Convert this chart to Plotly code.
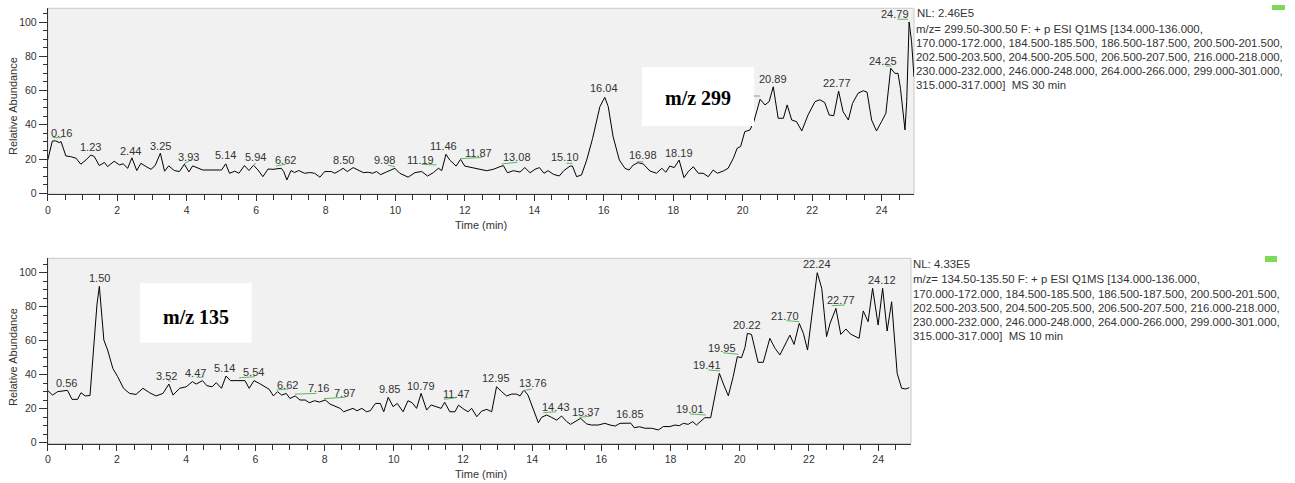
import plotly.graph_objects as go

# ---------------- data ----------------
top_t = [0.00, 0.13, 0.23, 0.33, 0.38, 0.52, 0.66, 0.81, 0.95, 1.10, 1.24, 1.34, 1.48, 1.63, 1.72, 1.91,
         2.06, 2.17, 2.30, 2.42, 2.56, 2.68, 2.83, 2.97, 3.09, 3.24, 3.36, 3.48, 3.64, 3.79, 3.93, 4.06,
         4.17, 4.30, 4.46, 4.94, 5.00, 5.12, 5.23, 5.38, 5.50, 5.66, 5.79, 5.92, 6.05, 6.19, 6.34, 6.48,
         6.72, 6.79, 6.88, 7.00, 7.10, 7.22, 7.39, 7.54, 7.68, 7.83, 7.97, 8.16, 8.26, 8.40, 8.50, 8.62,
         8.79, 8.93, 9.08, 9.22, 9.35, 9.46, 9.58, 9.75, 9.99, 10.13, 10.37, 10.57, 10.76, 10.93, 11.10,
         11.24, 11.34, 11.46, 11.57, 11.75, 11.88, 12.00, 12.20, 12.44, 12.63, 12.82, 13.01, 13.11, 13.23,
         13.40, 13.59, 13.73, 13.88, 14.02, 14.15, 14.28, 14.40, 14.55, 14.72, 14.85, 15.03, 15.10, 15.22,
         15.36, 15.51, 15.68, 15.89, 16.03, 16.13, 16.27, 16.45, 16.61, 16.73, 16.85, 16.99, 17.14, 17.33,
         17.52, 17.67, 17.79, 17.90, 18.03, 18.17, 18.31, 18.43, 18.58, 18.72, 18.86, 19.01, 19.15, 19.27,
         19.44, 19.58, 19.73, 19.84, 19.94, 20.06, 20.21, 20.32, 20.50, 20.64, 20.76, 20.88, 21.02, 21.17,
         21.28, 21.41, 21.55, 21.70, 21.88, 22.08, 22.22, 22.36, 22.49, 22.62, 22.76, 22.89, 23.04, 23.16,
         23.32, 23.47, 23.58, 23.71, 23.85, 24.00, 24.12, 24.26, 24.38, 24.47, 24.54, 24.67, 24.72, 24.79,
         24.86, 24.93]
top_v = [19.5, 30.5, 30.6, 29.6, 30.2, 21.8, 21.4, 20.5, 17.0, 19.5, 22.4, 21.4, 16.2, 18.0, 15.6, 18.7,
         16.6, 17.2, 14.6, 20.7, 13.3, 17.5, 15.6, 14.0, 16.2, 23.4, 12.9, 16.0, 13.3, 12.7, 17.0, 12.5,
         16.0, 15.0, 13.6, 13.6, 13.6, 17.2, 11.7, 12.9, 11.7, 16.2, 13.3, 16.4, 13.6, 9.7, 14.2, 14.0,
         14.6, 12.7, 7.8, 13.3, 12.1, 13.3, 11.7, 12.1, 11.7, 9.4, 12.7, 12.7, 11.7, 13.3, 14.6, 12.7,
         15.0, 13.6, 12.1, 12.3, 11.7, 12.7, 10.9, 12.5, 14.6, 11.7, 9.4, 12.1, 12.7, 10.1, 12.1,
         14.6, 13.3, 22.8, 19.4, 15.9, 19.8, 15.9, 15.2, 14.0, 13.2, 14.0, 15.5, 16.2, 12.0,
         13.2, 12.4, 15.0, 12.0, 14.0, 15.0, 11.7, 13.2, 11.1, 10.1, 13.2, 15.9, 15.9, 9.7,
         10.7, 19.4, 32.1, 50.6, 56.0, 50.6, 33.0, 19.4, 14.6, 13.6, 16.5, 17.9, 17.1, 13.0,
         11.7, 14.6, 12.3, 15.9, 15.0, 19.4, 9.1, 12.6, 15.5, 11.7, 11.7, 9.7, 13.6, 11.7,
         13.0, 14.6, 20.4, 26.3, 27.3, 36.0, 37.0, 41.8, 54.9, 51.6, 53.5, 62.2, 43.8, 43.8,
         51.6, 42.8, 41.8, 36.4, 45.7, 53.5, 54.6, 53.0, 45.7, 45.3, 59.7, 47.6, 42.8, 52.5,
         58.4, 59.9, 59.0, 42.8, 36.4, 42.0, 46.7, 73.0, 70.0, 70.0, 61.3, 37.0, 53.5, 100.0,
         88.5, 68.0]

bot_t = [0.00, 0.14, 0.28, 0.47, 0.57, 0.70, 0.86, 0.96, 1.08, 1.22, 1.34, 1.42, 1.49, 1.54, 1.62, 1.73,
         1.88, 2.02, 2.19, 2.36, 2.55, 2.75, 2.94, 3.13, 3.33, 3.50, 3.62, 3.81, 4.00, 4.18, 4.29, 4.47,
         4.60, 4.75, 4.87, 5.02, 5.15, 5.28, 5.45, 5.70, 5.82, 5.96, 6.11, 6.28, 6.40, 6.52, 6.64, 6.76,
         6.89, 7.00, 7.15, 7.29, 7.44, 7.56, 7.71, 7.85, 8.02, 8.16, 8.31, 8.45, 8.55, 8.69, 8.82, 8.94,
         9.08, 9.21, 9.32, 9.47, 9.61, 9.71, 9.84, 9.98, 10.10, 10.27, 10.41, 10.53, 10.66, 10.79, 10.95,
         11.08, 11.25, 11.37, 11.47, 11.62, 11.77, 11.87, 12.03, 12.15, 12.25, 12.40, 12.54, 12.69, 12.83,
         12.97, 13.12, 13.26, 13.41, 13.55, 13.65, 13.76, 13.88, 14.03, 14.18, 14.27, 14.42, 14.56, 14.71,
         14.85, 15.00, 15.11, 15.29, 15.40, 15.58, 15.72, 15.91, 16.10, 16.25, 16.40, 16.54, 16.68, 16.85,
         16.95, 17.10, 17.26, 17.45, 17.65, 17.79, 17.98, 18.13, 18.25, 18.37, 18.51, 18.64, 18.75, 18.87,
         18.99, 19.16, 19.28, 19.41, 19.54, 19.67, 19.81, 19.93, 20.05, 20.15, 20.22, 20.34, 20.53, 20.68,
         20.87, 21.02, 21.16, 21.31, 21.45, 21.57, 21.72, 21.84, 21.96, 22.11, 22.24, 22.37, 22.51, 22.61,
         22.78, 22.92, 23.07, 23.20, 23.45, 23.57, 23.71, 23.84, 24.00, 24.13, 24.26, 24.39, 24.49, 24.55,
         24.68, 24.80, 24.90]
bot_v = [30.6, 28.0, 30.0, 30.6, 30.8, 25.5, 25.5, 29.4, 27.5, 27.8, 60.4, 81.0, 92.0, 80.4, 60.4, 54.5,
         43.7, 38.8, 32.0, 29.0, 28.4, 32.0, 29.4, 27.5, 29.0, 34.5, 28.0, 32.0, 32.9, 35.9, 34.5, 36.5,
         33.5, 32.9, 35.3, 32.0, 39.2, 36.5, 36.5, 36.5, 32.0, 36.5, 34.9, 32.9, 31.4, 27.5, 30.0, 28.0,
         29.0, 26.0, 27.5, 25.1, 25.1, 23.5, 24.7, 23.9, 25.1, 22.7, 21.6, 20.2, 18.2, 19.2, 20.2, 18.8,
         20.2, 18.2, 18.8, 23.1, 23.1, 18.2, 26.7, 21.2, 23.1, 18.2, 24.7, 23.5, 20.2, 29.0, 19.2,
         22.2, 21.2, 20.2, 23.8, 18.2, 18.2, 22.1, 19.6, 18.2, 20.2, 15.3, 18.6, 19.6, 18.2,
         32.9, 30.0, 27.5, 28.6, 28.6, 27.5, 31.0, 28.0, 19.2, 11.7, 14.9, 16.3, 14.9, 13.3,
         15.7, 12.4, 10.8, 13.3, 14.3, 11.0, 10.4, 10.4, 11.4, 10.4, 9.8, 11.4, 11.4, 11.5,
         8.8, 9.4, 8.5, 8.5, 7.5, 9.5, 9.5, 10.4, 10.0, 11.4, 10.8, 12.4, 10.4, 12.4,
         14.7, 14.7, 28.0, 40.8, 33.9, 27.6, 38.8, 50.6, 50.0, 55.9, 64.3, 63.7, 47.3, 47.3,
         61.4, 55.5, 51.6, 57.5, 63.3, 57.8, 70.2, 64.3, 54.5, 79.0, 100.0, 90.8, 62.4, 70.2,
         79.0, 63.7, 66.9, 63.9, 61.4, 77.5, 71.2, 90.8, 69.2, 90.8, 65.7, 82.9, 57.5, 40.8,
         32.0, 31.6, 32.4]

# peak labels: text, and where the label sits (time, abundance)
top_lbl_text = ["0.16", "1.23", "2.44", "3.25", "3.93", "5.14", "5.94", "6.62", "8.50", "9.98", "11.19",
                "11.46", "11.87", "13.08", "15.10", "16.04", "16.98", "18.19", "20.89", "22.77", "24.25", "24.79"]
top_lbl_t = [0.38, 1.23, 2.39, 3.23, 4.04, 5.12, 5.99, 6.85, 8.50, 9.70, 10.73,
             11.38, 12.39, 13.49, 14.88, 16.01, 17.14, 18.17, 20.88, 22.72, 24.04, 24.38]
top_lbl_v = [35.0, 26.9, 24.9, 27.8, 21.4, 22.2, 21.0, 19.4, 19.4, 19.4, 19.4,
             27.8, 23.7, 21.0, 21.0, 61.3, 22.4, 23.7, 66.9, 64.2, 77.4, 104.7]

bot_lbl_text = ["0.56", "1.50", "3.52", "4.47", "5.14", "5.54", "6.62", "7.16", "7.97", "9.85", "10.79",
                "11.47", "12.95", "13.76", "14.43", "15.37", "16.85", "19.01", "19.41", "19.95", "20.22",
                "21.70", "22.24", "22.77", "24.12"]
bot_lbl_t = [0.55, 1.49, 3.42, 4.27, 5.12, 5.94, 6.92, 7.82, 8.59, 9.89, 10.78,
             11.82, 12.95, 14.01, 14.69, 15.57, 16.83, 18.56, 19.04, 19.48, 20.20,
             21.31, 22.22, 22.92, 24.10]
bot_lbl_v = [35.3, 97.0, 39.2, 41.2, 43.8, 41.6, 34.0, 32.4, 29.4, 31.4, 33.4,
             28.6, 37.9, 35.3, 20.8, 18.2, 16.7, 19.6, 45.7, 55.5, 69.2,
             74.5, 105.0, 83.9, 95.7]

# green peak-detection marks (start time, end time, start level, end level)
top_mark_t0 = [0.14, 3.92, 5.90, 6.57, 9.79, 10.76, 11.86, 13.06, 14.93, 16.95, 20.32, 24.12, 24.45]
top_mark_t1 = [0.41, 4.11, 5.99, 6.86, 9.99, 11.19, 12.49, 13.51, 15.10, 17.14, 20.50, 24.28, 24.76]
top_mark_v0 = [32.5, 17.2, 16.1, 15.9, 16.5, 16.9, 20.2, 17.1, 17.5, 18.4, 56.8, 74.3, 101.6]
top_mark_v1 = [32.5, 19.4, 17.5, 17.1, 15.5, 16.6, 20.9, 18.1, 17.5, 18.4, 56.8, 74.3, 101.6]

bot_mark_t0 = [3.44, 4.30, 5.53, 6.62, 7.14, 7.98, 11.45, 13.74, 14.32, 15.36, 18.56, 19.09, 19.52, 21.35, 22.66]
bot_mark_t1 = [3.55, 4.49, 5.99, 6.95, 7.77, 8.59, 11.80, 13.99, 14.69, 15.72, 19.02, 19.43, 19.96, 21.72, 23.04]
bot_mark_v0 = [37.3, 38.5, 38.2, 31.0, 28.6, 25.9, 25.5, 30.6, 17.6, 14.9, 16.9, 42.8, 52.9, 71.8, 80.6]
bot_mark_v1 = [35.9, 38.5, 38.8, 31.6, 29.0, 26.7, 26.5, 31.6, 18.2, 15.7, 16.3, 42.2, 52.0, 71.2, 81.0]

top_info = ["NL: 2.46E5",
            "m/z= 299.50-300.50 F: + p ESI Q1MS [134.000-136.000,",
            "170.000-172.000, 184.500-185.500, 186.500-187.500, 200.500-201.500,",
            "202.500-203.500, 204.500-205.500, 206.500-207.500, 216.000-218.000,",
            "230.000-232.000, 246.000-248.000, 264.000-266.000, 299.000-301.000,",
            "315.000-317.000]  MS 30 min"]
bot_info = ["NL: 4.33E5",
            "m/z= 134.50-135.50 F: + p ESI Q1MS [134.000-136.000,",
            "170.000-172.000, 184.500-185.500, 186.500-187.500, 200.500-201.500,",
            "202.500-203.500, 204.500-205.500, 206.500-207.500, 216.000-218.000,",
            "230.000-232.000, 246.000-248.000, 264.000-266.000, 299.000-301.000,",
            "315.000-317.000]  MS 10 min"]
top_title = "m/z 299"
bot_title = "m/z 135"

# ---------------- figure ----------------
W, H = 1295, 483
FONT = "Liberation Sans, Arial, sans-serif"
TXT = "#333333"
GREEN = "#5cb85c"


def px(p):
    return p / W


def py(p):
    return 1 - p / H


def marks(t0, t1, v0, v1):
    xs, ys = [], []
    for a, b, c, d in zip(t0, t1, v0, v1):
        xs += [a, b, None]
        ys += [c, d, None]
    return xs, ys


fig = go.Figure()
fig.add_trace(go.Scatter(x=top_t, y=top_v, mode="lines", line=dict(color="black", width=1),
                         xaxis="x", yaxis="y", hoverinfo="skip"))
mx, my = marks(top_mark_t0, top_mark_t1, top_mark_v0, top_mark_v1)
fig.add_trace(go.Scatter(x=mx, y=my, mode="lines", line=dict(color=GREEN, width=1),
                         xaxis="x", yaxis="y", hoverinfo="skip"))
fig.add_trace(go.Scatter(x=bot_t, y=bot_v, mode="lines", line=dict(color="black", width=1),
                         xaxis="x2", yaxis="y2", hoverinfo="skip"))
mx, my = marks(bot_mark_t0, bot_mark_t1, bot_mark_v0, bot_mark_v1)
fig.add_trace(go.Scatter(x=mx, y=my, mode="lines", line=dict(color=GREEN, width=1),
                         xaxis="x2", yaxis="y2", hoverinfo="skip"))

common_x = dict(showline=True, linecolor="#333", linewidth=1, ticks="outside", tickcolor="#333",
                ticklen=6, tick0=0, dtick=2, showgrid=False, zeroline=False, automargin=False,
                tickfont=dict(family=FONT, size=10.5, color=TXT),
                minor=dict(dtick=0.5, ticks="outside", ticklen=5, tickcolor="#333", showgrid=False))
common_y = dict(showline=True, linecolor="#333", linewidth=1, ticks="outside", tickcolor="#333",
                ticklen=8, tick0=0, dtick=20, showgrid=False, zeroline=False, automargin=False,
                tickfont=dict(family=FONT, size=10.5, color=TXT),
                minor=dict(dtick=5, ticks="outside", ticklen=4, tickcolor="#333", showgrid=False))

layout = dict(
    width=W, height=H, margin=dict(l=0, r=0, t=0, b=0, pad=0, autoexpand=False),
    paper_bgcolor="white", plot_bgcolor="#f1f1f1", showlegend=False,
    xaxis=dict(domain=[px(47.8), px(914.0)], range=[0, 24.93], anchor="y", **common_x),
    yaxis=dict(domain=[py(194.0), py(8.3)], range=[-0.41, 108.0], anchor="x", **common_y),
    xaxis2=dict(domain=[px(47.8), px(911.0)], range=[0, 24.95], anchor="y2", **common_x),
    yaxis2=dict(domain=[py(443.5), py(258.3)], range=[-0.47, 108.47], anchor="x2", **common_y),
)
fig.update_layout(**layout)


def note(**kw):
    base = dict(showarrow=False, xanchor="center", yanchor="middle")
    base.update(kw)
    return base


ann = []
for txt, t, v in zip(top_lbl_text, top_lbl_t, top_lbl_v):
    ann.append(note(x=t, y=v, xref="x", yref="y", text=txt,
                    font=dict(family=FONT, size=11, color=TXT)))
for txt, t, v in zip(bot_lbl_text, bot_lbl_t, bot_lbl_v):
    ann.append(note(x=t, y=v, xref="x2", yref="y2", text=txt,
                    font=dict(family=FONT, size=11, color=TXT)))

# axis titles
for yc in (106.0, 357.0):
    ann.append(note(x=px(13), y=py(yc), xref="paper", yref="paper", text="Relative Abundance",
                    textangle=-90, font=dict(family=FONT, size=11, color=TXT)))
for yc in (225.0, 473.5):
    ann.append(note(x=px(480.5), y=py(yc), xref="paper", yref="paper", text="Time (min)",
                    font=dict(family=FONT, size=11, color=TXT)))

# info text on the right
INFO_SIZE = 11.4
top_rows = [13.0, 29.3, 43.3, 57.3, 71.0, 85.0]
bot_rows = [264.0, 279.3, 293.7, 307.7, 321.7, 335.7]
for i, (line, yc) in enumerate(zip(top_info, top_rows)):
    ann.append(note(x=px(915 if i == 0 else 914), y=py(yc), xref="paper", yref="paper", text=line,
                    xanchor="left", font=dict(family=FONT, size=INFO_SIZE, color=TXT)))
for line, yc in zip(bot_info, bot_rows):
    ann.append(note(x=px(911), y=py(yc), xref="paper", yref="paper", text=line,
                    xanchor="left", font=dict(family=FONT, size=INFO_SIZE, color=TXT)))

# boxed ion titles
SERIF = "Liberation Serif, Times New Roman, serif"
ann.append(note(x=px(698), y=py(98), xref="paper", yref="paper", text="<b>%s</b>" % top_title,
                font=dict(family=SERIF, size=20, color="black")))
ann.append(note(x=px(196), y=py(317), xref="paper", yref="paper", text="<b>%s</b>" % bot_title,
                font=dict(family=SERIF, size=20, color="black")))

shapes = [
    dict(type="rect", xref="x domain", yref="y domain", x0=0, x1=1, y0=0, y1=1,
         line=dict(color="#c8c8c8", width=1), layer="below"),
    dict(type="rect", xref="x2 domain", yref="y2 domain", x0=0, x1=1, y0=0, y1=1,
         line=dict(color="#c8c8c8", width=1), layer="below"),
    dict(type="rect", xref="paper", yref="paper", x0=px(642), x1=px(754), y0=py(126), y1=py(67),
         fillcolor="white", line=dict(width=0), layer="above"),
    dict(type="rect", xref="paper", yref="paper", x0=px(140), x1=px(251.7), y0=py(342.7), y1=py(283.3),
         fillcolor="white", line=dict(width=0), layer="above"),
    dict(type="rect", xref="paper", yref="paper", x0=px(1272), x1=px(1285), y0=py(10), y1=py(5),
         fillcolor="#7ed957", line=dict(width=0)),
    dict(type="rect", xref="paper", yref="paper", x0=px(1265), x1=px(1277), y0=py(262), y1=py(256),
         fillcolor="#7ed957", line=dict(width=0)),
]
fig.update_layout(annotations=ann, shapes=shapes)

fig.write_html("out.html", config={"displayModeBar": False},
               post_script="document.body.style.margin='0px';document.body.style.overflow='hidden';")
